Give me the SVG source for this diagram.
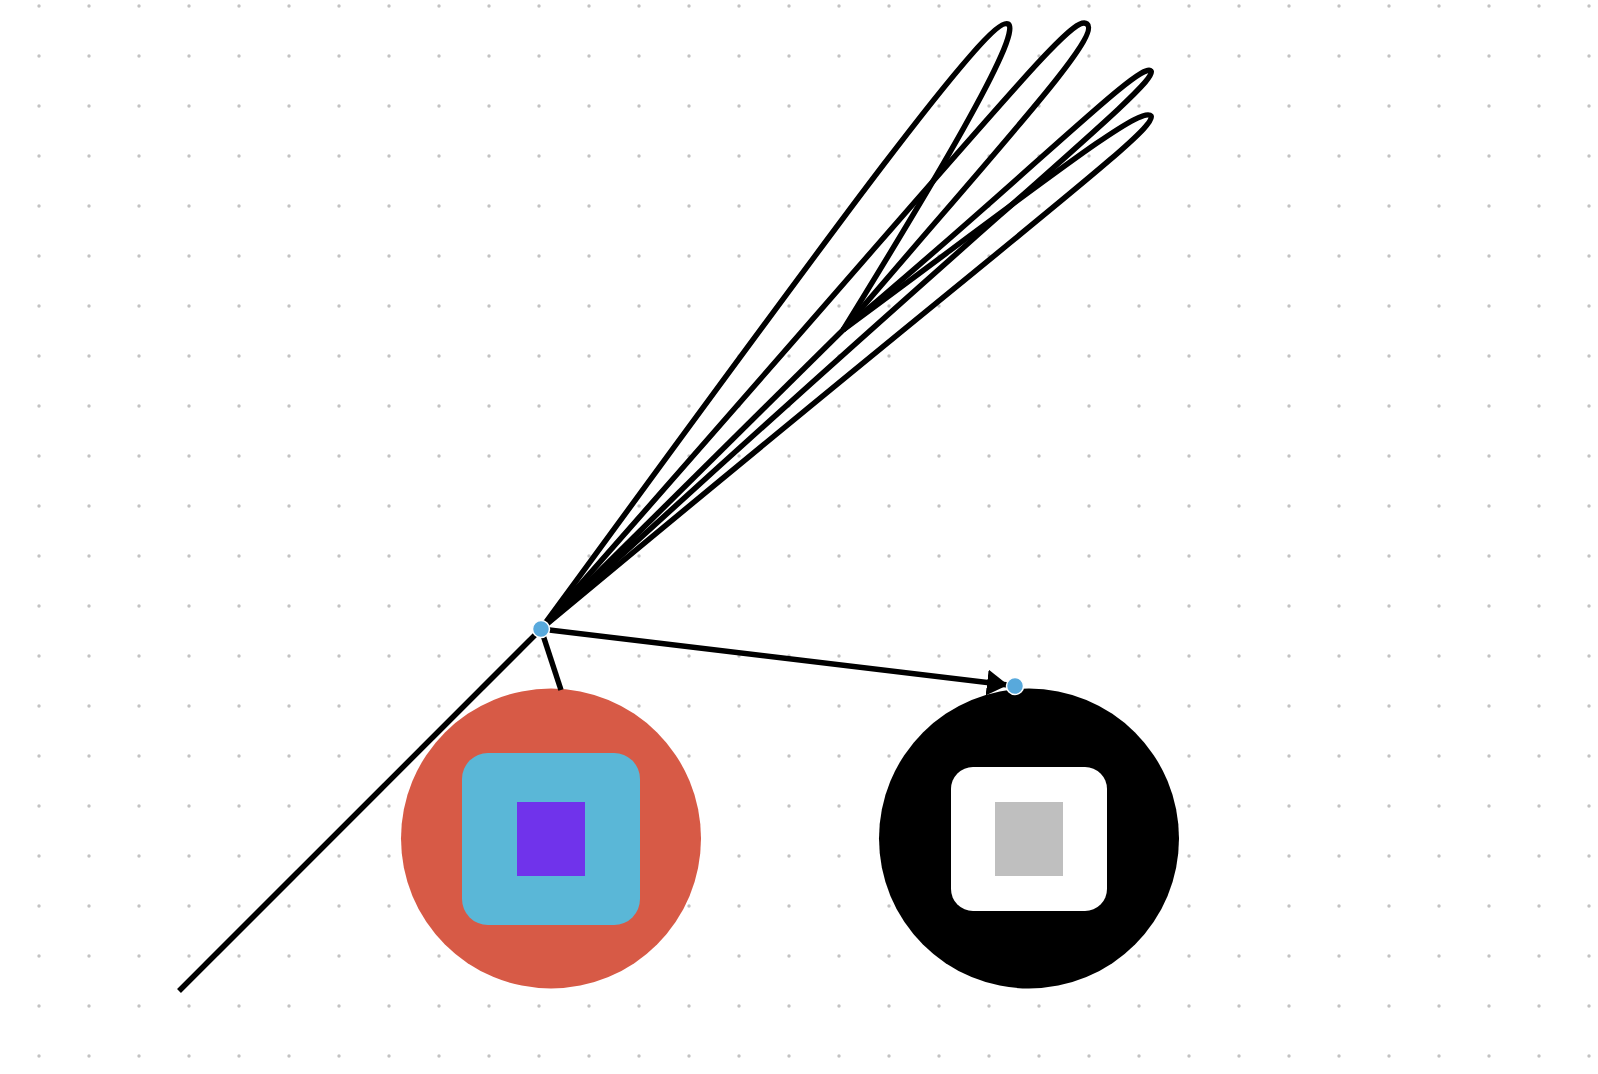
<svg xmlns="http://www.w3.org/2000/svg" width="1598" height="1074" viewBox="0 0 1598 1074">
<style>
.edge{fill:none;stroke:#000;stroke-width:5.5;stroke-linejoin:round}
.port{fill:#58a9dc;stroke:#fff;stroke-width:1.5}
</style>
<defs>
<pattern id="grid" x="14" y="-19" width="50" height="50" patternUnits="userSpaceOnUse">
<circle cx="25" cy="25" r="1.7" fill="#c2c2c2"/>
</pattern>
<marker id="arrow" markerUnits="userSpaceOnUse" markerWidth="26" markerHeight="28" refX="21" refY="13" orient="auto">
<path d="M0,0 L21,13 L0,26 Z" fill="#000"/>
</marker>
</defs>
<rect width="1598" height="1074" fill="#fff"/>
<rect width="1598" height="1074" fill="url(#grid)"/>
<g id="node-red">
<circle cx="551" cy="838.5" r="150" fill="#d75a46"/>
<rect x="462" y="753" width="178" height="172" rx="26" fill="#5ab7d7"/>
<rect x="517" y="802" width="68" height="74" fill="#7033eb"/>
</g>
<g id="node-black">
<circle cx="1029" cy="838.5" r="150" fill="#000"/>
<rect x="951" y="767" width="156" height="144" rx="22" fill="#fff"/>
<rect x="995" y="802" width="68" height="74" fill="#bfbfbf"/>
</g>
<g id="connectors">
<path class="edge" d="M541,629 L179,991"/>
<path class="edge" d="M541,629 L561,690"/>
<path class="edge" d="M541,629 L843,330"/>
<path class="edge" d="M541,629 C837,224 990,14 1008,24 C1024,33 928,192 843,330"/>
<path class="edge" d="M541,629 C1004,104 1072,12 1087,24 C1102,36 1005,140 843,330"/>
<path class="edge" d="M541,629 C984,221 1161,82 1151,71 C1141,60 1036,168 843,330"/>
<path class="edge" d="M541,629 C1004,243 1160,128 1151,116 C1142,104 1046,180 843,330"/>
<path class="edge" d="M541,629 L1008,685" stroke-width="4.8" marker-end="url(#arrow)"/>
</g>
<g id="ports">
<circle class="port" cx="541" cy="629" r="8.5"/>
<circle class="port" cx="1015" cy="686" r="8.5"/>
</g>
</svg>
